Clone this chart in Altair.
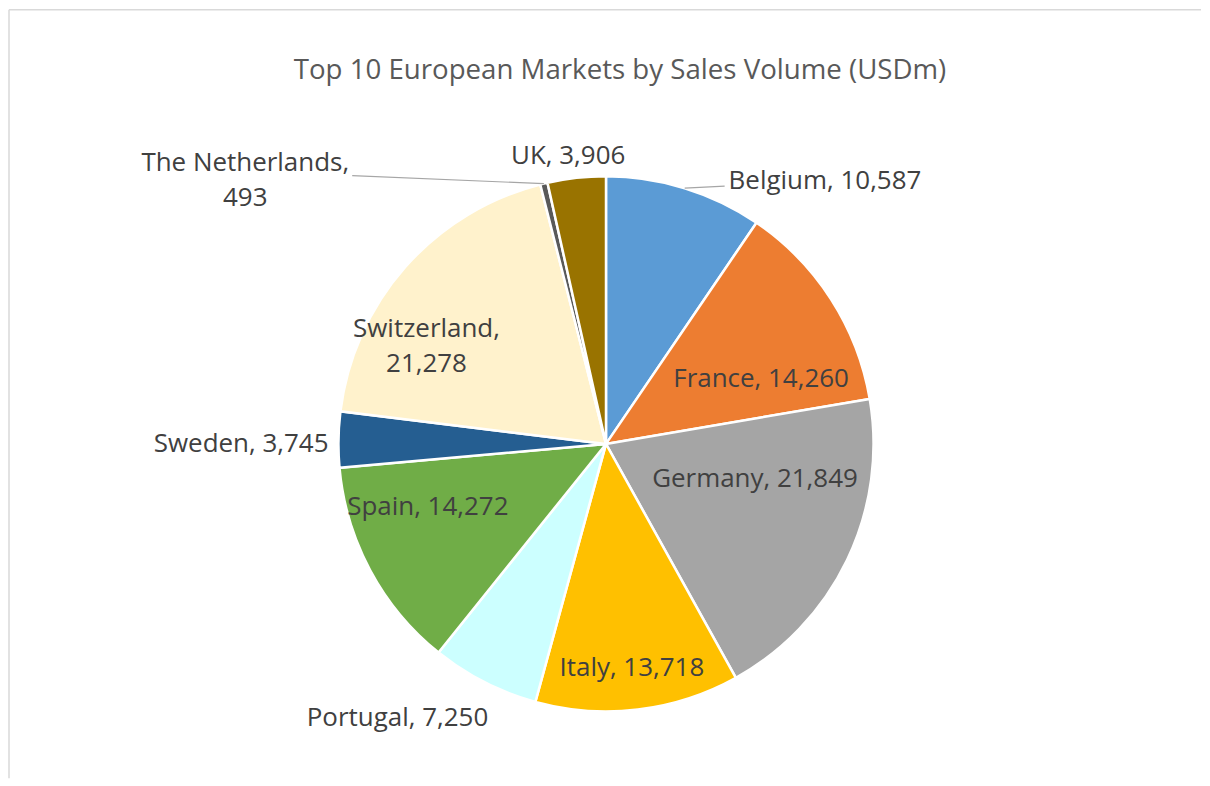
import altair as alt
import pandas as pd

countries = ["Belgium", "France", "Germany", "Italy", "Portugal", "Spain",
             "Sweden", "Switzerland", "The Netherlands", "UK"]
values = [10587, 14260, 21849, 13718, 7250, 14272, 3745, 21278, 493, 3906]
colors = ["#5B9BD5", "#ED7D31", "#A5A5A5", "#FFC000", "#CCFFFF", "#70AD47",
          "#255E91", "#FFF2CC", "#595959", "#997300"]
two_line = ["Switzerland", "The Netherlands"]

labels = [f"{c},\n{v:,}" if c in two_line else f"{c}, {v:,}" for c, v in zip(countries, values)]
df = pd.DataFrame({"country": countries, "value": values, "idx": list(range(len(countries))),
                   "label": labels})

W, H = 1194, 770
CX, CY, R = 598, 435, 268
FONT = "Open Sans"

base = (
    alt.Chart(df)
    .transform_window(cum="sum(value)", sort=[{"field": "idx"}])
    .transform_joinaggregate(total="sum(value)")
    .transform_calculate(ang="(datum.cum - datum.value/2) / datum.total * 2 * PI")
)

pie = alt.Chart(df).mark_arc(radius=R, stroke="white", strokeWidth=2.5).encode(
    theta=alt.Theta("value:Q", stack=True),
    order=alt.Order("idx:Q"),
    color=alt.Color("country:N", scale=alt.Scale(domain=countries, range=colors), legend=None),
    x=alt.value(CX), y=alt.value(CY),
)

# label placement: (radius, dx, dy, align)
label_cfg = {
    "Belgium": (290, 134, 14, "center"),
    "France": (168, 14, 26, "center"),
    "Germany": (160, 5, -34, "center"),
    "Italy": (225, -1, 1, "center"),
    "Portugal": (310, -68, -2, "center"),
    "Spain": (190, -11, -27, "center"),
    "Sweden": (278, 0, 5, "right"),
    "Switzerland": (205, -26, 20, "center"),
    "The Netherlands": (290, -294, 1, "center"),
    "UK": (290, -6, 0, "center"),
}

text_layers = []
for c in countries:
    rr, dx, dy, al = label_cfg[c]
    text_layers.append(
        base.transform_filter(alt.datum.country == c)
        .mark_text(radius=rr, dx=dx, dy=dy, align=al, baseline="middle", font=FONT,
                   fontSize=26, color="#404040", lineBreak="\n", lineHeight=35)
        .encode(x=alt.value(CX), y=alt.value(CY),
                theta=alt.Theta("ang:Q", scale=None), text="label:N")
    )

# leader lines from slice edge
leader_cfg = {"Belgium": (40, -2), "The Netherlands": (-192, -8)}
leaders = []
for c, (ox, oy) in leader_cfg.items():
    leaders.append(
        base.transform_filter(alt.datum.country == c)
        .transform_calculate(
            lx1=f"{CX} + {R} * sin(datum.ang)",
            ly1=f"{CY} - {R} * cos(datum.ang)",
        )
        .transform_calculate(lx2=f"datum.lx1 + ({ox})", ly2=f"datum.ly1 + ({oy})")
        .mark_rule(color="#A6A6A6", strokeWidth=1.2)
        .encode(x=alt.X("lx1:Q", scale=None), y=alt.Y("ly1:Q", scale=None),
                x2="lx2:Q", y2="ly2:Q")
    )

title = alt.Chart(pd.DataFrame({"t": ["Top 10 European Markets by Sales Volume (USDm)"]})).mark_text(
    font=FONT, fontSize=27.7, color="#595959", align="center", baseline="middle"
).encode(x=alt.value(612), y=alt.value(61), text="t:N")

frame_top = alt.Chart(pd.DataFrame({"a": [0]})).mark_rule(color="#D9D9D9", strokeWidth=1.5).encode(
    x=alt.value(0), x2=alt.value(W), y=alt.value(0))
frame_left = alt.Chart(pd.DataFrame({"a": [0]})).mark_rule(color="#D9D9D9", strokeWidth=1.5).encode(
    x=alt.value(0), y=alt.value(0), y2=alt.value(H))

chart = alt.layer(frame_top, frame_left, pie, *leaders, *text_layers, title).properties(
    width=W, height=H, padding=0, background="white"
).configure_view(stroke="transparent", strokeWidth=0)

chart.save("out.html", embed_options={"renderer": "svg", "actions": False})
